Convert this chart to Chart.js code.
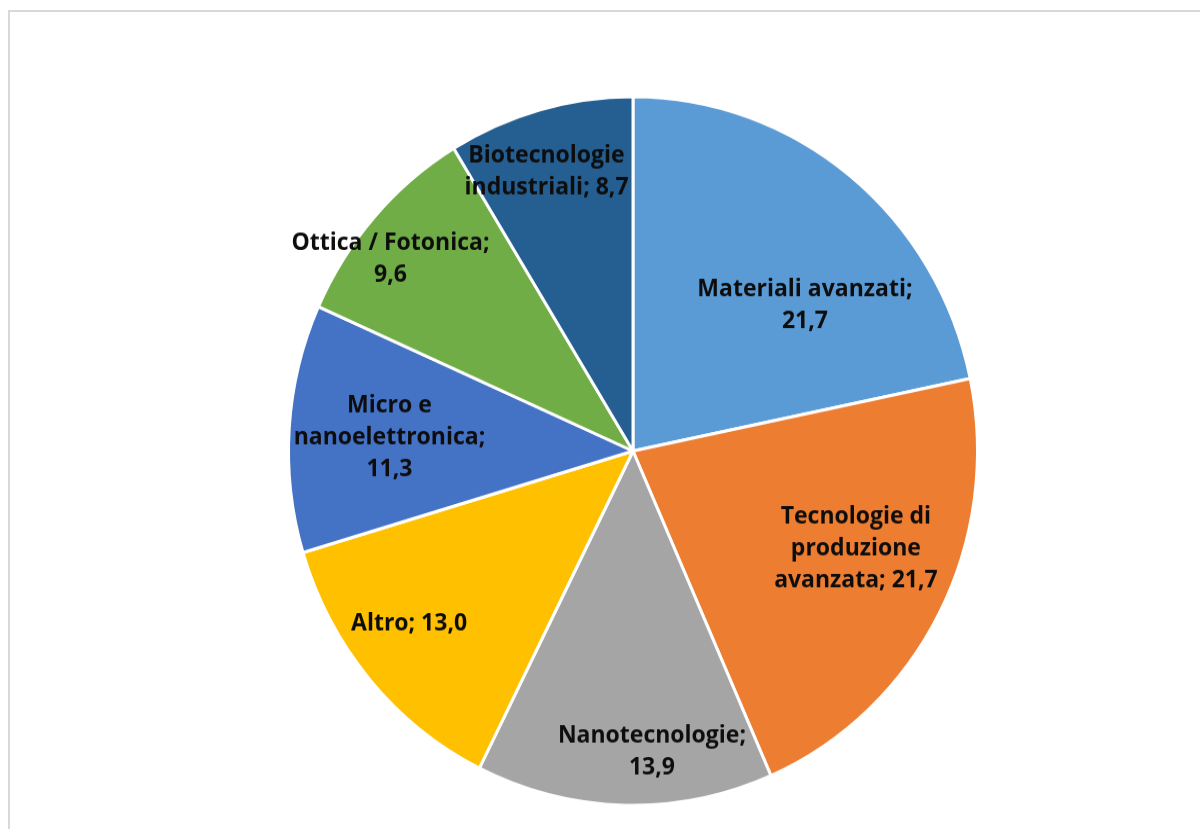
<!DOCTYPE html>
<html>
<head>
<meta charset="utf-8">
<script src="https://cdn.jsdelivr.net/npm/chart.js@4.4.0/dist/chart.umd.min.js"></script>
<style>
  body { margin: 0; background: #fff; overflow: hidden; }
  #frame { position: absolute; left: 8px; top: 10px; width: 1300px; height: 900px; border: 2px solid #d9d9d9; }
  /* the original picture is a bit taller than wide, so stretch the chart vertically */
  #wrap { position: absolute; left: 0; top: 0; transform-origin: 0 0; transform: scale(1, 1.0285); }
</style>
</head>
<body>
<div id="frame"></div>
<div id="wrap"><canvas id="pie" width="1200" height="806"></canvas></div>
<script>
const categories = ['Materiali avanzati', 'Tecnologie di produzione avanzata', 'Nanotecnologie', 'Altro', 'Micro e nanoelettronica', 'Ottica / Fotonica', 'Biotecnologie industriali'];
const shares = [21.7, 21.7, 13.9, 13.0, 11.3, 9.6, 8.7];
const labelLines = [
    ['Materiali avanzati;', '21,7'],
    ['Tecnologie di', 'produzione', 'avanzata; 21,7'],
    ['Nanotecnologie;', '13,9'],
    ['Altro; 13,0'],
    ['Micro e', 'nanoelettronica;', '11,3'],
    ['Ottica / Fotonica;', '9,6'],
    ['Biotecnologie', 'industriali; 8,7']
];
const colors = ['#5b9bd5', '#ed7d31', '#a5a5a5', '#ffc000', '#4472c4', '#70ad47', '#255e91'];

// where excel put each label, as a fraction of the radius from the centre
const labelSpots = [[0.499, -0.411], [0.647, 0.275], [0.055, 0.850], [-0.650, 0.487], [-0.707, -0.037], [-0.704, -0.542], [-0.251, -0.789]];

const sliceLabels = {
    id: 'sliceLabels',
    afterDatasetsDraw(chart) {
        const ctx = chart.ctx;
        const arcs = chart.getDatasetMeta(0).data;
        if (!arcs.length) return;
        const cx = arcs[0].x, cy = arcs[0].y, r = arcs[0].outerRadius;
        ctx.save();
        ctx.font = 'bold 23px "Open Sans"';
        ctx.fillStyle = '#0d0d0d';
        ctx.textAlign = 'center';
        ctx.textBaseline = 'middle';
        labelLines.forEach((lines, i) => {
            const x = cx + labelSpots[i][0] * r;
            const y = cy + labelSpots[i][1] * r;
            const lh = 31;
            lines.forEach((t, j) => {
                ctx.fillText(t, x, y + (j - (lines.length - 1) / 2) * lh);
            });
        });
        ctx.restore();
    }
};

var ctx = document.getElementById('pie').getContext('2d');
var pie = new Chart(ctx, {
    type: 'pie',
    data: {
        labels: categories,
        datasets: [{
            data: shares,
            backgroundColor: colors,
            borderColor: '#fff',
            borderWidth: 3,
            hoverOffset: 0
        }]
    },
    options: {
        responsive: false,
        animation: false,
        events: [],
        layout: {
            padding: { top: 92.5, bottom: 21.5, left: 287, right: 221 }
        },
        plugins: {
            legend: { display: false },
            tooltip: { enabled: false }
        }
    },
    plugins: [sliceLabels]
});
</script>
</body>
</html>
